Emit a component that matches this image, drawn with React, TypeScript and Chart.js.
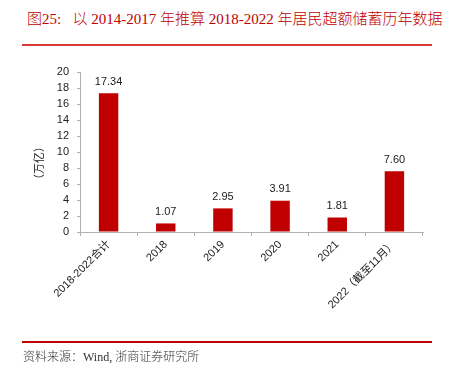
import React, { useEffect, useRef } from "react";
import { Chart, registerables } from "chart.js";

Chart.register(...registerables);

const titleText = "图25:   以 2014-2017 年推算 2018-2022 年居民超额储蓄历年数据";
const sourceText = "资料来源：Wind, 浙商证券研究所";
const yAxisTitle = "（万亿）";
const categories = ["2018-2022合计", "2018", "2019", "2020", "2021", "2022（截至11月）"];
const values = [17.34, 1.07, 2.95, 3.91, 1.81, 7.6];
const yTicks = [0, 2, 4, 6, 8, 10, 12, 14, 16, 18, 20];

const RED = "#c00000";
const sansFont = "'Liberation Sans', Arial, 'Noto Sans CJK SC', sans-serif";
const serifFont = "'Liberation Serif', 'Times New Roman', 'Noto Sans CJK SC', serif";

const labelPlugin = {
  id: "labels",
  afterDatasetsDraw(chart: any) {
    const ctx = chart.ctx;
    const meta = chart.getDatasetMeta(0);
    ctx.save();
    ctx.font = `11px ${sansFont}`;
    ctx.fillStyle = "#222";
    ctx.textAlign = "center";
    ctx.textBaseline = "bottom";
    meta.data.forEach((bar: any, i: number) => {
      ctx.fillText(values[i].toFixed(2), bar.x, bar.y - 6);
    });
    // y axis title
    ctx.translate(40, 163);
    ctx.rotate(-Math.PI / 2);
    ctx.textBaseline = "middle";
    ctx.font = `11px ${sansFont}`;
    ctx.fillText(yAxisTitle, 0, 0);
    ctx.restore();
  },
};

export default function App() {
  const ref = useRef<HTMLCanvasElement>(null);
  useEffect(() => {
    const chart = new Chart(ref.current!, {
      type: "bar",
      data: {
        labels: categories,
        datasets: [
          {
            data: values,
            backgroundColor: RED,
            borderWidth: 0,
            categoryPercentage: 1,
            barPercentage: 0.34,
          },
        ],
      },
      plugins: [labelPlugin],
      options: {
        responsive: false,
        animation: false,
        layout: { padding: { top: 72, left: 0, right: 26, bottom: 0 } },
        plugins: { legend: { display: false }, tooltip: { enabled: false } },
        scales: {
          x: {
            afterFit: (s: any) => {
              s.height = 146;
            },
            border: { color: "#b0b0b0", width: 1 },
            grid: { display: true, drawOnChartArea: false, tickLength: 4, color: "#b0b0b0", offset: true },
            ticks: {
              autoSkip: false,
              minRotation: 45,
              maxRotation: 45,
              color: "#222",
              font: { size: 11, family: sansFont },
              padding: 2,
            },
          },
          y: {
            min: 0,
            max: 20,
            afterFit: (s: any) => {
              s.width = 80;
            },
            afterBuildTicks: (s: any) => {
              s.ticks = yTicks.map((v) => ({ value: v }));
            },
            border: { color: "#b0b0b0", width: 1 },
            grid: { display: true, drawOnChartArea: false, tickLength: 3, color: "#b0b0b0" },
            ticks: {
              autoSkip: false,
              color: "#222",
              font: { size: 11, family: sansFont },
              padding: 8,
            },
          },
        },
      },
    });
    return () => chart.destroy();
  }, []);

  return (
    <div style={{ position: "fixed", left: 0, top: 0, width: 449, height: 378, background: "#fff" }}>
      <div
        style={{
          position: "absolute",
          left: 27,
          top: 9,
          fontFamily: serifFont,
          fontSize: 15,
          fontWeight: 300,
          color: RED,
          whiteSpace: "pre",
          lineHeight: "20px",
        }}
      >
        {titleText}
      </div>
      <div style={{ position: "absolute", left: 22, top: 44, width: 410, height: 2, background: "#d63a3a" }} />
      <canvas ref={ref} width={449} height={378} style={{ position: "absolute", left: 0, top: 0 }} />
      <div style={{ position: "absolute", left: 22, top: 341, width: 410, height: 1.5, background: RED }} />
      <div
        style={{
          position: "absolute",
          left: 23,
          top: 349,
          fontFamily: serifFont,
          fontSize: 12,
          fontWeight: 300,
          color: "#333",
          whiteSpace: "pre",
          lineHeight: "16px",
        }}
      >
        {sourceText}
      </div>
    </div>
  );
}
